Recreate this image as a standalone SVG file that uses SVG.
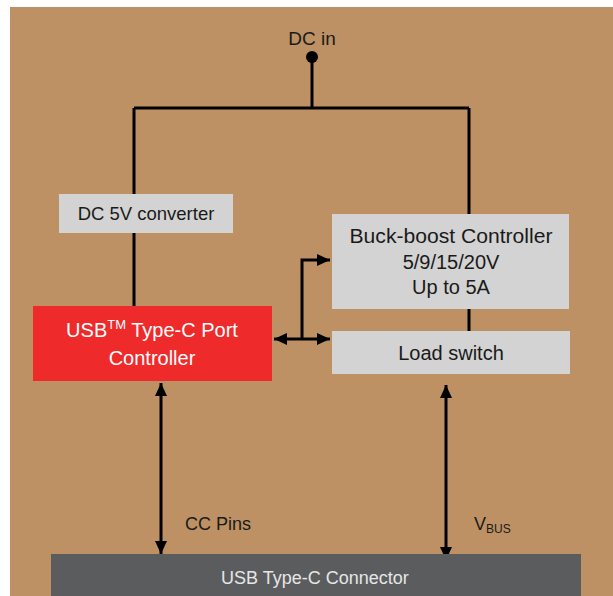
<svg xmlns="http://www.w3.org/2000/svg" width="613" height="596" viewBox="0 0 613 596">
<defs>
<marker id="ah" markerUnits="userSpaceOnUse" markerWidth="14" markerHeight="14" viewBox="0 0 14 14" refX="13" refY="7" orient="auto-start-reverse">
<path d="M0,1 L13,7 L0,13 Z" fill="#000"/>
</marker>
<style>
.t{font-family:"Liberation Sans",Arial,sans-serif;fill:#1a1a1a;text-anchor:middle}
.box{fill:#d3d3d3}
.w{stroke:#000;stroke-width:3;fill:none}
</style>
</defs>
<rect x="0" y="0" width="613" height="596" fill="#fff"/>
<rect x="10" y="7" width="603" height="589" fill="#bd9163"/>
<g id="connectors">
<circle cx="312" cy="57" r="6" fill="#000"/>
<path class="w" d="M312,57 V108 M134,108 H469 M134,108 V307 M469,108 V331"/>
<path class="w" d="M274,339 H330" marker-start="url(#ah)" marker-end="url(#ah)"/>
<path class="w" d="M302,339 V260 H330" marker-end="url(#ah)"/>
<path class="w" d="M161,383 V554" marker-start="url(#ah)" marker-end="url(#ah)"/>
<path class="w" d="M446,385 V560" marker-start="url(#ah)" marker-end="url(#ah)"/>
</g>
<g id="dcin"><text class="t" x="312" y="45" font-size="19">DC in</text></g>
<g id="dc5v">
<rect class="box" x="59" y="194" width="174" height="39"/>
<text class="t" x="146" y="220" font-size="18.5">DC 5V converter</text>
</g>
<g id="tcpc">
<rect x="33" y="306" width="239" height="75" fill="#ee2a2a"/>
<text class="t" x="152" y="337" font-size="20" style="fill:#fff">USB<tspan font-size="13" dy="-8">TM</tspan><tspan dy="8"> Type-C Port</tspan></text>
<text class="t" x="152" y="365" font-size="20" style="fill:#fff">Controller</text>
</g>
<g id="buckboost">
<rect class="box" x="332" y="214" width="237" height="95"/>
<text class="t" x="451" y="243" font-size="20" textLength="203" lengthAdjust="spacingAndGlyphs">Buck-boost Controller</text>
<text class="t" x="451" y="269" font-size="20">5/9/15/20V</text>
<text class="t" x="451" y="294" font-size="20">Up to 5A</text>
</g>
<g id="loadswitch">
<rect class="box" x="332" y="331" width="238" height="43"/>
<text class="t" x="451" y="360" font-size="20">Load switch</text>
</g>
<g id="usbconn">
<rect x="51" y="554" width="530" height="42" fill="#5b5c5e"/>
<text class="t" x="315" y="584" font-size="18" style="fill:#e6e6e6">USB Type-C Connector</text>
</g>
<g id="labels">
<text class="t" x="185" y="530" font-size="18" style="text-anchor:start">CC Pins</text>
<text class="t" x="474" y="530" font-size="18" style="text-anchor:start">V<tspan font-size="12" dy="3">BUS</tspan></text>
</g>
</svg>
